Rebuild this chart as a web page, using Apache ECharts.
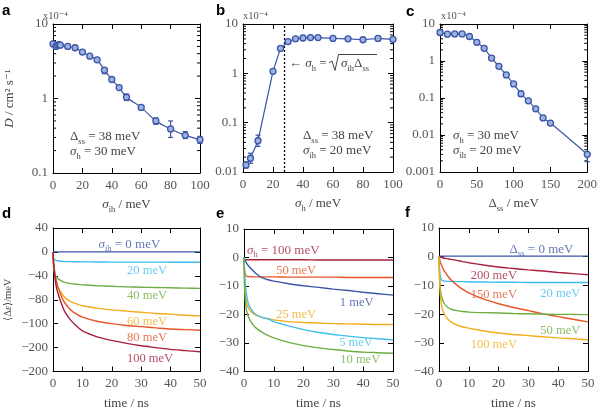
<!DOCTYPE html>
<html>
<head>
<meta charset="utf-8">
<script src="https://cdn.jsdelivr.net/npm/echarts@6/dist/echarts.min.js"></script>
<style>
  html, body { margin: 0; padding: 0; background: #fff; }
  #chart { width: 600px; height: 411px; }
</style>
</head>
<body>
<div id="chart"></div>
<script>
/* ---- data ---- */
// a: D (x1e-4 cm2/s) vs sigma_ih
var sigIh = [0, 2, 3, 4, 5, 10, 15, 20, 25, 30, 35, 40, 45, 50, 60, 70, 80, 90, 100];
var dA    = [5.4, 5.0, 5.2, 5.3, 5.2, 5.0, 4.8, 4.2, 3.7, 3.3, 2.4, 1.8, 1.4, 1.04, 0.76, 0.50, 0.39, 0.32, 0.28];
var errA  = [[35, 2.15, 2.6], [50, 0.94, 1.15], [70, 0.45, 0.55], [80, 0.30, 0.50], [90, 0.29, 0.36], [100, 0.25, 0.31]];
// b: D vs sigma_h
var sigH  = [2, 5, 10, 20, 25, 30, 35, 40, 45, 50, 60, 70, 80, 90, 100];
var dB    = [0.0138, 0.019, 0.043, 1.1, 3.2, 4.4, 5.0, 5.2, 5.3, 5.3, 5.1, 5.0, 4.8, 5.1, 4.9];
var errB  = [[2, 0.012, 0.016], [5, 0.015, 0.024], [10, 0.033, 0.056], [70, 4.6, 5.4]];
// c: D vs Delta_ss
var dSS   = [0, 10, 20, 30, 40, 50, 60, 70, 80, 90, 100, 110, 120, 130, 140, 150, 200];
var dC    = [5.9, 5.3, 5.4, 5.4, 4.6, 3.2, 2.2, 1.2, 0.72, 0.42, 0.24, 0.13, 0.084, 0.051, 0.029, 0.021, 0.0030];
var errC  = [[110, 0.11, 0.155], [130, 0.045, 0.058], [200, 0.0019, 0.0034]];
var sigIhB = 20, dSSB = 38;   // dashed line: sigma_h = sqrt(sigma_ih * Delta_ss)

// d, e, f: <delta eps> (meV) vs time (ns)
var tNs = [0, 0.1, 0.3, 0.6, 1, 1.5, 2, 3, 4, 6, 8, 10, 15, 20, 25, 30, 35, 40, 45, 50];
var dCurves = [
  [0, 0, 0, 0, 0, 0, 0, 0, 0, 0, 0, 0, 0, 0, 0, 0, 0, 0, 0, 0],
  [0, -8, -11, -13, -14, -14.7, -15.2, -15.7, -16, -16.3, -16.5, -16.6, -16.8, -17, -17, -17, -17, -17.2, -17.2, -17.2],
  [0, -20, -30, -36, -41, -44, -46, -49, -51, -53, -54, -55, -56.5, -57.5, -58.5, -59, -59.5, -60, -60.5, -61],
  [0, -12, -24, -36, -47, -56, -62, -70, -76, -83, -87, -90, -94, -97, -99, -101, -103, -104, -106, -107],
  [0, -10, -21, -34, -46, -56, -63, -76, -85, -97, -104, -109, -116, -120, -123, -125, -127, -129, -130, -131],
  [0, -12, -25, -40, -55, -66, -74, -88, -100, -114, -124, -132, -142, -148, -153, -157, -160, -163, -165, -167]
];
var dLabels = ['{i|σ}{s|ih}{n| = 0 meV}', '20 meV', '40 meV', '60 meV', '80 meV', '100 meV'];
var eCurves = [
  [0, -0.5, -0.7, -0.8, -0.8, -0.8, -0.8, -0.8, -0.8, -0.8, -0.8, -0.8, -0.8, -0.8, -0.9, -0.9, -0.9, -0.9, -0.9, -0.9],
  [0, -3, -5.5, -6.3, -6.6, -6.7, -6.7, -6.8, -6.8, -6.8, -6.8, -6.8, -6.9, -6.9, -6.9, -6.9, -7, -7, -7, -7],
  [0, -0.3, -0.8, -1.5, -2.2, -2.9, -3.5, -4.6, -5.6, -7.1, -7.8, -8.3, -9.2, -9.9, -10.5, -11.1, -11.6, -12.2, -12.7, -13.2],
  [0, -5, -10, -14, -16.5, -17.8, -18.6, -19.6, -20.2, -21, -21.5, -21.9, -22.5, -22.8, -23, -23.2, -23.3, -23.4, -23.5, -23.5],
  [0, -3, -7, -11, -14, -16.2, -17.5, -19, -20, -21, -21.5, -22.5, -24, -25.3, -26.3, -27, -27.6, -28.1, -28.5, -28.9],
  [0, -7, -13, -17, -19.3, -20.8, -22, -23.6, -24.7, -26.2, -27.3, -28.2, -29.8, -30.9, -31.7, -32.3, -32.8, -33.2, -33.4, -33.6]
];
var eLabels = ['{i|σ}{s|h}{n| = 100 meV}', '50 meV', '1 meV', '25 meV', '5 meV', '10 meV'];
var fCurves = [
  [0, 0.1, 0.2, 0.2, 0.2, 0.2, 0.2, 0.2, 0.2, 0.2, 0.2, 0.2, 0.2, 0.2, 0.2, 0.2, 0.2, 0.2, 0.2, 0.2],
  [0, -0.05, -0.1, -0.2, -0.3, -0.45, -0.55, -0.75, -0.95, -1.3, -1.7, -2.1, -2.9, -3.6, -4.1, -4.6, -5.0, -5.5, -5.9, -6.3],
  [0, -3, -6, -7.6, -8.2, -8.4, -8.5, -8.6, -8.6, -8.7, -8.7, -8.8, -8.8, -8.9, -8.9, -9, -9, -9, -9, -9],
  [0, -0.5, -1.3, -2.3, -3.3, -4.4, -5.3, -6.8, -8.0, -9.9, -11.4, -12.6, -14.8, -16.4, -17.7, -18.8, -19.9, -20.9, -21.8, -22.7],
  [0, -4, -9, -12.5, -14.5, -15.8, -16.7, -17.7, -18.3, -18.8, -19.1, -19.3, -19.5, -19.6, -19.8, -19.9, -20, -20.1, -20.1, -20.2],
  [0, -5, -11, -15, -17.7, -19.3, -20.4, -21.8, -22.7, -23.8, -24.5, -24.9, -25.9, -26.6, -27.1, -27.5, -27.9, -28.3, -28.6, -29]
];
var fLabels = ['{n|Δ}{s|ss}{n| = 0 meV}', '200 meV', '20 meV', '150 meV', '50 meV', '100 meV'];

/* ---- styles ---- */
var FONT = '"Liberation Serif", "DejaVu Serif", serif';
var GREY = '#555';
var BLUE = '#3b55a6', LBLUE = '#3fbfee', GREEN = '#6fae45', YEL = '#f4ac1c', ORG = '#e6552a', DRED = '#a6213f';
var dColors = [BLUE, LBLUE, GREEN, YEL, ORG, DRED];
var eColors = [DRED, ORG, BLUE, YEL, LBLUE, GREEN];
var fColors = [BLUE, DRED, LBLUE, ORG, GREEN, YEL];
var dLabelPos = [[26, 13], [32, -31], [32, -73], [32, -116], [32, -143], [33, -178]];
var eLabelPos = [[13.2, 2.5], [17.5, -4.5], [37.8, -15.9], [17.5, -20], [37.6, -30], [39, -36]];
var fLabelPos = [[34.4, 2.5], [18.4, -6.7], [40.7, -12.8], [18.4, -13.2], [40.7, -25.7], [18.4, -30.5]];
var MINOR_MULT = [2, 3, 4, 5, 6, 7, 8, 9];

var RICH = {
  n: { fontFamily: FONT, fontSize: 13, lineHeight: 18 },
  i: { fontFamily: FONT, fontSize: 13, fontStyle: 'italic', lineHeight: 18 },
  s: { fontFamily: FONT, fontSize: 8.5, verticalAlign: 'bottom', lineHeight: 9 }
};

var grids = [
  { left: 53, top: 24, width: 147, height: 149 },
  { left: 243, top: 24, width: 150, height: 148 },
  { left: 440, top: 24, width: 148, height: 148 },
  { left: 53, top: 228, width: 147, height: 147 },
  { left: 244, top: 229, width: 149, height: 147 },
  { left: 439, top: 228, width: 149, height: 148 }
];

function fmtNum(v) {
  var s = v >= 1 ? String(Math.round(v)) : String(+v.toPrecision(1));
  return s.replace('-', '\u2212');
}

function xAx(gi, min, max, interval, top, name) {
  return {
    type: 'value', gridIndex: gi, position: top ? 'top' : 'bottom',
    min: min, max: max, interval: interval,
    axisLine: { show: true, onZero: false, lineStyle: { color: '#000', width: 1 } },
    axisTick: { show: true, inside: true, length: 5, lineStyle: { color: '#000' } },
    axisLabel: { show: !top, margin: 6, color: GREY, fontFamily: FONT, fontSize: 13, formatter: fmtNum },
    splitLine: { show: false },
    name: top ? '' : name, nameLocation: 'middle', nameGap: 23,
    nameTextStyle: { color: '#444', fontFamily: FONT, fontSize: 13, rich: RICH }
  };
}

function yAx(gi, type, min, max, interval, right, name, nameGap) {
  var ax = {
    type: type, gridIndex: gi, position: right ? 'right' : 'left',
    min: min, max: max,
    axisLine: { show: true, onZero: false, lineStyle: { color: '#000', width: 1 } },
    axisTick: { show: true, inside: true, length: 5, lineStyle: { color: '#000' } },
    axisLabel: { show: !right, margin: 5, color: GREY, fontFamily: FONT, fontSize: 13, formatter: fmtNum },
    splitLine: { show: false },
    name: right ? '' : (name || ''), nameLocation: 'middle', nameGap: nameGap || 30,
    nameTextStyle: { color: '#444', fontFamily: FONT, fontSize: 13, rich: RICH }
  };
  if (type === 'log') ax.logBase = 10; else ax.interval = interval;
  return ax;
}

function minorTicks(gi, lo, hi) {
  var vals = [];
  for (var e = Math.round(Math.log10(lo)); e < Math.round(Math.log10(hi)); e++) {
    MINOR_MULT.forEach(function (m) { vals.push([0, m * Math.pow(10, e)]); });
  }
  return {
    type: 'custom', xAxisIndex: gi, yAxisIndex: gi, silent: true, z: 3, data: vals,
    renderItem: function (params, api) {
      var cs = params.coordSys;
      var y = api.coord([api.value(0), api.value(1)])[1];
      var st = { stroke: '#000', lineWidth: 1 };
      return { type: 'group', children: [
        { type: 'line', shape: { x1: cs.x, y1: y, x2: cs.x + 3, y2: y }, style: st },
        { type: 'line', shape: { x1: cs.x + cs.width, y1: y, x2: cs.x + cs.width - 3, y2: y }, style: st }
      ] };
    }
  };
}

function errBars(gi, data) {
  return {
    type: 'custom', xAxisIndex: gi, yAxisIndex: gi, silent: true, z: 4, data: data,
    renderItem: function (params, api) {
      var x = api.value(0);
      var p1 = api.coord([x, api.value(1)]), p2 = api.coord([x, api.value(2)]);
      var st = { stroke: BLUE, lineWidth: 1.2 };
      return { type: 'group', children: [
        { type: 'line', shape: { x1: p1[0], y1: p1[1], x2: p2[0], y2: p2[1] }, style: st },
        { type: 'line', shape: { x1: p1[0] - 2.5, y1: p1[1], x2: p1[0] + 2.5, y2: p1[1] }, style: st },
        { type: 'line', shape: { x1: p2[0] - 2.5, y1: p2[1], x2: p2[0] + 2.5, y2: p2[1] }, style: st }
      ] };
    }
  };
}

function dLine(gi, xs, ys, smooth) {
  return {
    type: 'line', xAxisIndex: gi, yAxisIndex: gi, z: 5,
    data: xs.map(function (x, k) { return [x, ys[k]]; }),
    smooth: smooth, symbol: 'circle', symbolSize: 6,
    lineStyle: { color: BLUE, width: 1.2 },
    itemStyle: { color: '#9db1e2', borderColor: BLUE, borderWidth: 1.3 }
  };
}

function curves(gi, arr, colors) {
  return arr.map(function (ys, k) {
    return {
      type: 'line', xAxisIndex: gi, yAxisIndex: gi, showSymbol: false,
      smooth: 0.25,
      data: tNs.map(function (t, j) { return [t, ys[j]]; }),
      lineStyle: { color: colors[k], width: 1.4 }
    };
  });
}

function curveLabels(gi, texts, pos, colors) {
  return {
    type: 'scatter', xAxisIndex: gi, yAxisIndex: gi, symbolSize: 1, silent: true, z: 6,
    itemStyle: { color: 'transparent' },
    data: texts.map(function (t, k) {
      return { name: t, value: pos[k],
        label: { show: true, position: 'inside', formatter: t, color: colors[k],
          fontFamily: FONT, fontSize: 12.5, rich: RICH } };
    })
  };
}

var xAxes = [
  xAx(0, 0, 100, 20, false, '{i|σ}{s|ih}{n| / meV}'),
  xAx(1, 0, 100, 20, false, '{i|σ}{s|h}{n| / meV}'),
  xAx(2, 0, 200, 50, false, '{n|Δ}{s|ss}{n| / meV}'),
  xAx(3, 0, 50, 10, false, '{n|time / ns}'),
  xAx(4, 0, 50, 10, false, '{n|time / ns}'),
  xAx(5, 0, 50, 10, false, '{n|time / ns}')
];
[[0, 100, 20], [0, 100, 20], [0, 200, 50], [0, 50, 10], [0, 50, 10], [0, 50, 10]].forEach(function (r, gi) {
  xAxes.push(xAx(gi, r[0], r[1], r[2], true));
});

var yAxes = [
  yAx(0, 'log', 0.1, 10, null, false, '{i|D}{n| / cm² s⁻¹}', 34),
  yAx(1, 'log', 0.01, 10, null, false),
  yAx(2, 'log', 0.001, 10, null, false),
  yAx(3, 'value', -200, 40, 40, false, '{d|⟨Δ}{e|ε}{d|⟩/meV}', 39),
  yAx(4, 'value', -40, 10, 10, false),
  yAx(5, 'value', -40, 10, 10, false)
];
yAxes[3].nameTextStyle.rich = {
  d: { fontFamily: FONT, fontSize: 10.5 },
  e: { fontFamily: FONT, fontSize: 10.5, fontStyle: 'italic' }
};
[['log', 0.1, 10], ['log', 0.01, 10], ['log', 0.001, 10], ['value', -200, 40, 40], ['value', -40, 10, 10], ['value', -40, 10, 10]].forEach(function (r, gi) {
  yAxes.push(yAx(gi, r[0], r[1], r[2], r[3], true));
});

var lineB = dLine(1, sigH, dB, false);
lineB.markLine = {
  silent: true, symbol: 'none', label: { show: false },
  lineStyle: { color: '#000', type: [2, 2], width: 1.3 },
  data: [{ xAxis: Math.sqrt(sigIhB * dSSB) }]
};

var series = [
  minorTicks(0, 0.1, 10), minorTicks(1, 0.01, 10), minorTicks(2, 0.001, 10),
  errBars(0, errA), errBars(1, errB), errBars(2, errC),
  dLine(0, sigIh, dA, 0.3), lineB, dLine(2, dSS, dC, 0.3)
].concat(curves(3, dCurves, dColors), curves(4, eCurves, eColors), curves(5, fCurves, fColors),
  [curveLabels(3, dLabels, dLabelPos, dColors), curveLabels(4, eLabels, eLabelPos, eColors), curveLabels(5, fLabels, fLabelPos, fColors)]);

function gText(x, y, str) {
  return { type: 'text', z: 10, style: { text: str, x: x, y: y, fill: '#444', fontFamily: FONT,
    fontSize: 13, verticalAlign: 'middle', rich: RICH } };
}
function letter(x, y, s) {
  return { type: 'text', z: 10, style: { text: s, x: x, y: y, fill: '#000',
    font: 'bold 15px "Liberation Sans", Arial, sans-serif', verticalAlign: 'middle' } };
}
function pow4(x) {
  return { type: 'text', z: 10, style: { text: 'x10⁻⁴', x: x, y: 16, fill: GREY,
    fontFamily: FONT, fontSize: 10.5, verticalAlign: 'middle' } };
}

var graphics = [
  letter(2, 11, 'a'), letter(216, 11, 'b'), letter(406, 12, 'c'),
  letter(2, 214, 'd'), letter(216, 214, 'e'), letter(405, 213, 'f'),
  pow4(43), pow4(243), pow4(441),
  gText(70, 137, '{n|Δ}{s|ss}{n| = 38 meV}'),
  gText(70, 152, '{i|σ}{s|h}{n| = 30 meV}'),
  gText(303, 136, '{n|Δ}{s|ss}{n| = 38 meV}'),
  gText(303, 151, '{i|σ}{s|ih}{n| = 20 meV}'),
  gText(453, 136, '{i|σ}{s|h}{n| = 30 meV}'),
  gText(453, 151, '{i|σ}{s|ih}{n| = 20 meV}'),
  gText(289, 64, '{n|← }{i|σ}{s|h}{n| =}'),
  { type: 'polyline', z: 10, shape: { points: [[329, 63], [332, 61], [335, 70.5], [338.5, 54.5], [377, 54.5]] },
    style: { stroke: '#444', lineWidth: 1, fill: null } },
  gText(341, 64, '{i|σ}{s|ih}{n|Δ}{s|ss}')
];

var chart = echarts.init(document.getElementById('chart'));
chart.setOption({
  animation: false,
  grid: grids,
  xAxis: xAxes,
  yAxis: yAxes,
  series: series,
  graphic: graphics
});
</script>
</body>
</html>
